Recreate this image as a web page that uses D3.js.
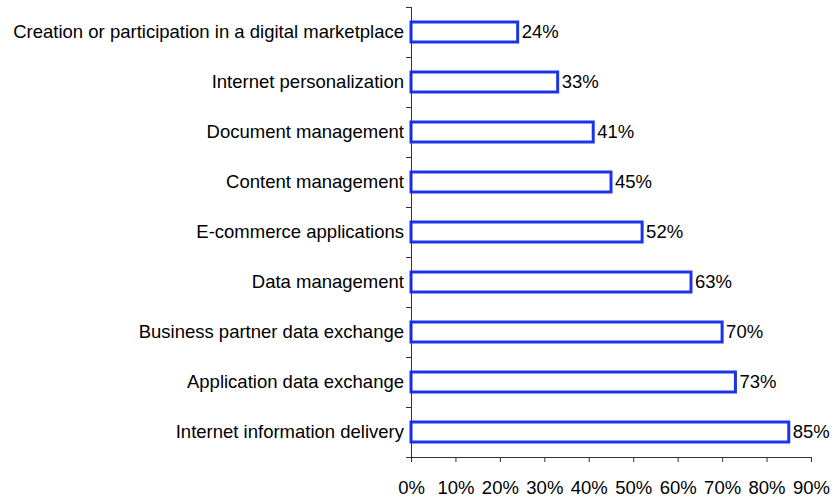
<!DOCTYPE html>
<html>
<head>
<meta charset="utf-8">
<script src="https://cdn.jsdelivr.net/npm/d3@7"></script>
<style>
  body { margin: 0; background: #fff; }
  text { font-family: "Liberation Sans", Arial, sans-serif; font-size: 18.5px; fill: #000; }
</style>
</head>
<body>
<div id="chart"></div>
<script>
var categories = [
  "Creation or participation in a digital marketplace",
  "Internet personalization",
  "Document management",
  "Content management",
  "E-commerce applications",
  "Data management",
  "Business partner data exchange",
  "Application data exchange",
  "Internet information delivery"
];
var values = [24, 33, 41, 45, 52, 63, 70, 73, 85];
var xTicks = [0, 10, 20, 30, 40, 50, 60, 70, 80, 90];

var svgWidth = 834, svgHeight = 499;
var margin = { top: 7, right: 22, bottom: 42, left: 411 };
var width = svgWidth - margin.left - margin.right;
var height = svgHeight - margin.top - margin.bottom;

var svg = d3.select("#chart").append("svg")
  .attr("width", svgWidth)
  .attr("height", svgHeight);

var g = svg.append("g")
  .attr("transform", `translate(${margin.left}, ${margin.top})`);

var x = d3.scaleLinear().domain([0, 90]).range([0, 400]);
var y = d3.scaleBand().domain(categories).range([0, height]).paddingInner(0.6).paddingOuter(0.3);

// bars
g.selectAll("rect.bar")
  .data(values)
  .enter()
  .append("rect")
  .attr("class", "bar")
  .attr("x", 0)
  .attr("y", (d, i) => y(categories[i]))
  .attr("width", d => x(d))
  .attr("height", y.bandwidth())
  .attr("fill", "#fff")
  .attr("stroke", "#1c34e8")
  .attr("stroke-width", 3);

// value labels
g.selectAll("text.val")
  .data(values)
  .enter()
  .append("text")
  .attr("class", "val")
  .attr("x", d => x(d) + 4)
  .attr("y", (d, i) => y(categories[i]) + y.bandwidth() / 2)
  .attr("dy", "0.35em")
  .text(d => d + "%");

// category labels
g.selectAll("text.cat")
  .data(categories)
  .enter()
  .append("text")
  .attr("class", "cat")
  .attr("x", -7)
  .attr("y", d => y(d) + y.bandwidth() / 2)
  .attr("dy", "0.35em")
  .attr("text-anchor", "end")
  .text(d => d);

// y axis line and boundary ticks
var bounds = d3.range(categories.length + 1).map(i => i * height / categories.length);
g.append("line")
  .attr("x1", 0.5).attr("x2", 0.5)
  .attr("y1", 0).attr("y2", height)
  .attr("stroke", "#333");
g.selectAll("line.ytick")
  .data(bounds)
  .enter()
  .append("line")
  .attr("class", "ytick")
  .attr("x1", -5).attr("x2", 0.5)
  .attr("y1", d => Math.round(d) + 0.5)
  .attr("y2", d => Math.round(d) + 0.5)
  .attr("stroke", "#333");

// x axis
var xAxis = g.append("g")
  .attr("transform", `translate(0, ${height})`)
  .call(d3.axisBottom(x).tickValues(xTicks).tickFormat(d => d + "%").tickSize(5).tickSizeOuter(0).tickPadding(19));
xAxis.select(".domain").attr("stroke", "#333");
xAxis.selectAll(".tick line").attr("stroke", "#333");
xAxis.selectAll(".tick text")
  .attr("font-family", "Liberation Sans, Arial, sans-serif")
  .attr("font-size", 18)
  .attr("fill", "#000");
</script>
</body>
</html>
